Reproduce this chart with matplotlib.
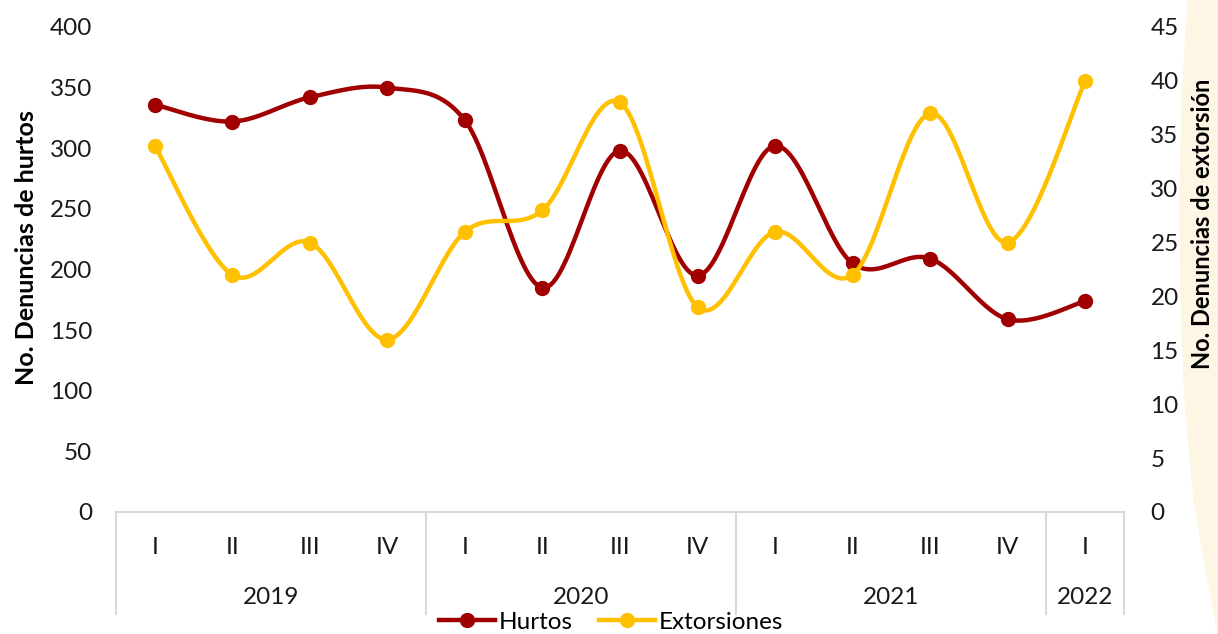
import numpy as np
import matplotlib.pyplot as plt
from matplotlib.patches import Polygon
from matplotlib.lines import Line2D

# datos
trimestres = ['I', 'II', 'III', 'IV', 'I', 'II', 'III', 'IV', 'I', 'II', 'III', 'IV', 'I']
anios = ['2019', '2020', '2021', '2022']
trim_por_anio = [4, 4, 4, 1]
hurtos = [336, 322, 342, 350, 323, 185, 298, 195, 302, 205, 209, 159, 174]
extorsiones = [34, 22, 25, 16, 26, 28, 38, 19, 26, 22, 37, 25, 40]

rojo = '#A00000'
amarillo = '#FFC000'
gris = '#D9D9D9'
fs = 17.5
plt.rcParams['font.family'] = ['Lato', 'DejaVu Sans']


# curva suavizada tipo excel (catmull-rom en bezier)
def suavizar(x, y, n=30):
    p = np.column_stack([x, y]).astype(float)
    p = np.vstack([p[0], p, p[-1]])
    out = []
    for i in range(1, len(p) - 2):
        p0, p1, p2, p3 = p[i - 1], p[i], p[i + 1], p[i + 2]
        c1 = p1 + (p2 - p0) / 6
        c2 = p2 - (p3 - p1) / 6
        t = np.linspace(0, 1, n)[:, None]
        seg = (1 - t)**3 * p1 + 3 * (1 - t)**2 * t * c1 + 3 * (1 - t) * t**2 * c2 + t**3 * p2
        out.append(seg if i == 1 else seg[1:])
    out = np.vstack(out)
    return out[:, 0], out[:, 1]


fig = plt.figure(figsize=(12.18, 6.34), dpi=100)

# fondo beige a la derecha
W, H = 1218, 634
pts = [(1188, 0), (1182, 100), (1180, 200), (1181, 300), (1185, 400),
       (1194, 500), (1208, 580), (1218, 634), (1218, 0)]
fig.patches.append(Polygon([(a / W, 1 - b / H) for a, b in pts], closed=True,
                           transform=fig.transFigure, color='#FEF6E4', zorder=-5))

ax = fig.add_axes([116 / W, 1 - 512 / H, (1124 - 116) / W, (512 - 27) / H])
ax.patch.set_alpha(0)
ax2 = ax.twinx()

x = np.arange(len(trimestres))
xs, ys = suavizar(x, hurtos)
ax.plot(xs, ys, color=rojo, lw=3.2, solid_capstyle='round', zorder=3)
ax.plot(x, hurtos, 'o', color=rojo, ms=10, zorder=3)
xs, ys = suavizar(x, extorsiones)
ax2.plot(xs, ys, color=amarillo, lw=3.2, solid_capstyle='round', zorder=2)
ax2.plot(x, extorsiones, 'o', color=amarillo, ms=10, zorder=2)

ax.set_xlim(-0.5, len(trimestres) - 0.5)
ax.set_ylim(0, 400)
ax2.set_ylim(0, 45)
ax.set_yticks(np.arange(0, 401, 50))
ax2.set_yticks(np.arange(0, 46, 5))
ax.set_xticks([])

for a in (ax, ax2):
    for s in a.spines.values():
        s.set_visible(False)
    a.tick_params(axis='y', length=0, labelsize=fs, colors='#1a1a1a')
ax.tick_params(axis='y', pad=17)
ax2.tick_params(axis='y', pad=19)
ax.spines['bottom'].set_visible(True)
ax.spines['bottom'].set_color(gris)
ax.spines['bottom'].set_linewidth(1.5)

# eje de categorias de dos niveles
tr = ax.get_xaxis_transform()
ybot = -(614 - 512) / 485
for i, t in enumerate(trimestres):
    ax.text(i, -35 / 485, t, transform=tr, ha='center', va='center',
            fontsize=fs, color='#1a1a1a')
inicio = -0.5
cortes = [inicio]
for anio, n in zip(anios, trim_por_anio):
    ax.text(inicio + n / 2, -85 / 485, anio, transform=tr, ha='center', va='center',
            fontsize=fs, color='#1a1a1a')
    inicio += n
    cortes.append(inicio)
for c in cortes:
    ax.add_line(Line2D([c, c], [0, ybot], transform=tr, color=gris, lw=1.5, clip_on=False))

fig.text(27 / W, 1 - 248 / H, 'No. Denuncias de hurtos', rotation=90, ha='center',
         va='center', fontsize=18, fontweight='bold')
fig.text(1203 / W, 1 - 224 / H, 'No. Denuncias de extorsión', rotation=90, ha='center',
         va='center', fontsize=17, fontweight='bold')

h1 = Line2D([], [], color=rojo, lw=3.2, marker='o', ms=10)
h2 = Line2D([], [], color=amarillo, lw=3.2, marker='o', ms=10)
fig.legend([h1, h2], ['Hurtos', 'Extorsiones'], loc='center', bbox_to_anchor=(611 / W, 1 - 622 / H),
           ncol=2, frameon=False, fontsize=fs, handlelength=2.3, handletextpad=0.15,
           columnspacing=1.1, borderpad=0)

fig.savefig('out.png', dpi=100)
